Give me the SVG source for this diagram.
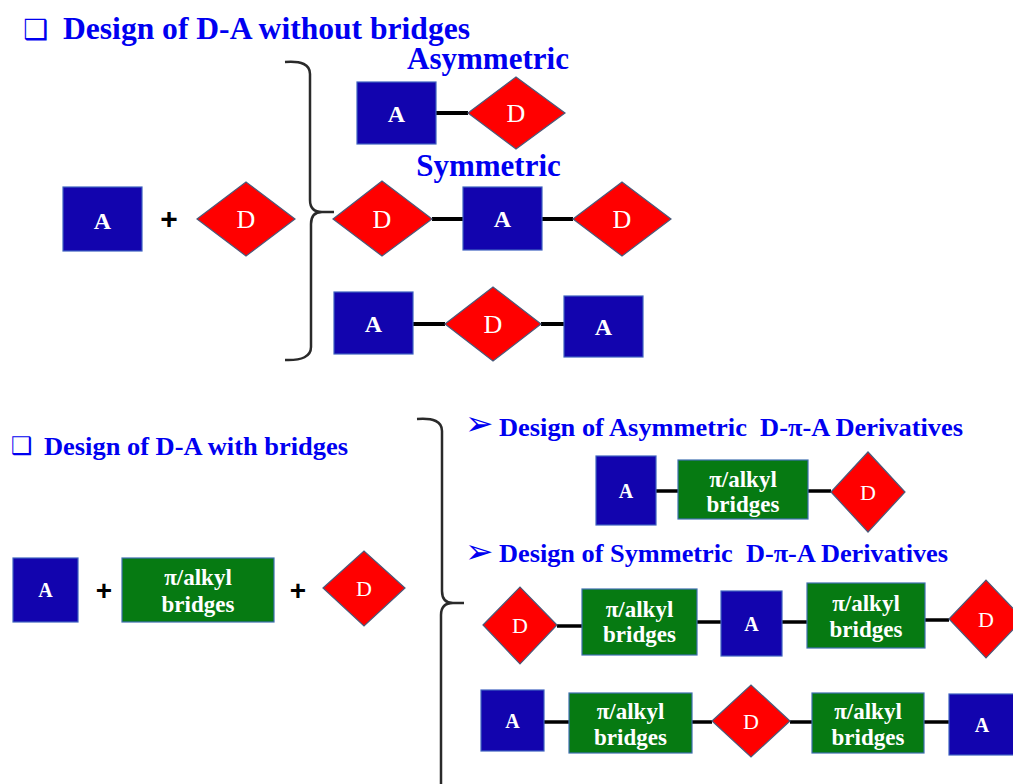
<svg xmlns="http://www.w3.org/2000/svg" width="1013" height="784" viewBox="0 0 1013 784">
<style>
.a{fill:#1204AE;stroke:#3F62C0;stroke-width:1.2}
.d{fill:#FF0000;stroke:#4A5A7A;stroke-width:1.2}
.g{fill:#067A12;stroke:#3F6FB0;stroke-width:1.2}
.ta{font-family:'Liberation Serif',serif;font-weight:bold;fill:#fff;text-anchor:middle}
.td{font-family:'Liberation Serif',serif;fill:#fff;text-anchor:middle}
.tg{font-family:'Liberation Serif',serif;font-weight:bold;fill:#fff;text-anchor:middle;font-size:23px}
.title{font-family:'Liberation Serif',serif;font-weight:bold;fill:#0000F0;white-space:pre}
.bul{font-family:'DejaVu Sans',sans-serif;fill:#0000F0}
.plus{font-family:'Liberation Sans',sans-serif;font-weight:bold;fill:#000;text-anchor:middle}
.brace{fill:none;stroke:#2a2a2a;stroke-width:2.5}
#connectors line{stroke:#000;stroke-width:4}
</style>
<rect width="1013" height="784" fill="#fff"/>

<!-- titles -->
<g id="title1">
<text class="bul" x="23" y="39" font-size="28">❑</text>
<text class="title" x="63" y="39" font-size="31" textLength="407" lengthAdjust="spacingAndGlyphs">Design of D-A without bridges</text>
</g>
<g id="title2">
<text class="bul" x="11" y="454" font-size="24">❑</text>
<text class="title" x="44" y="455" font-size="26" textLength="304" lengthAdjust="spacingAndGlyphs">Design of D-A with bridges</text>
</g>
<text class="title" x="488" y="69" font-size="31" text-anchor="middle">Asymmetric</text>
<text class="title" x="488.5" y="176" font-size="31" text-anchor="middle">Symmetric</text>
<g id="title3">
<text class="bul" x="465" y="435" font-size="34">➢</text>
<text class="title" x="499" y="436" font-size="26" textLength="464" lengthAdjust="spacingAndGlyphs">Design of Asymmetric  D-π-A Derivatives</text>
</g>
<g id="title4">
<text class="bul" x="465" y="563" font-size="34">➢</text>
<text class="title" x="499" y="562" font-size="26" textLength="449" lengthAdjust="spacingAndGlyphs">Design of Symmetric  D-π-A Derivatives</text>
</g>

<!-- braces -->
<path class="brace" d="M285,62 Q310,60 310,74 L310,200 Q310,212 322,212 L334,212 M322,212 Q311,212 311,224 L311,347 Q311,361 285,360"/>
<path class="brace" d="M417,419 Q442,417 442,431 L442,591 Q442,603 453,603 L464,603 M453,603 Q441,603 441,615 L441,790"/>

<!-- plus signs -->
<text class="plus" x="169" y="229" font-size="30">+</text>
<text class="plus" x="104" y="600" font-size="28">+</text>
<text class="plus" x="298" y="600" font-size="28">+</text>

<!-- connectors -->
<g id="connectors">
<line x1="436" y1="113" x2="468" y2="113"/>
<line x1="432" y1="219" x2="463" y2="219"/>
<line x1="542" y1="219" x2="573" y2="219"/>
<line x1="413" y1="324" x2="445" y2="324"/>
<line x1="541" y1="324" x2="564" y2="324"/>
<line x1="656" y1="491" x2="678" y2="491" style="stroke-width:3.5"/>
<line x1="808" y1="491" x2="831" y2="491" style="stroke-width:3.5"/>
<line x1="557" y1="626" x2="582" y2="626" style="stroke-width:3.5"/>
<line x1="697" y1="622" x2="721" y2="622" style="stroke-width:3.5"/>
<line x1="782" y1="622" x2="807" y2="622" style="stroke-width:3.5"/>
<line x1="925" y1="620" x2="949" y2="620" style="stroke-width:3.5"/>
<line x1="544" y1="722" x2="569" y2="722" style="stroke-width:3.5"/>
<line x1="692" y1="722" x2="712" y2="722" style="stroke-width:3.5"/>
<line x1="790" y1="722" x2="812" y2="722" style="stroke-width:3.5"/>
<line x1="924" y1="722" x2="949" y2="722" style="stroke-width:3.5"/>
</g>

<!-- top section nodes -->
<g id="A0"><rect class="a" x="63" y="187" width="79" height="64"/><text class="ta" x="102.5" y="229" font-size="24">A</text></g>
<g id="D0"><polygon class="d" points="197,219 246,182 295,219 246,256"/><text class="td" x="246" y="228" font-size="26">D</text></g>

<g id="A1"><rect class="a" x="357" y="82" width="79" height="62"/><text class="ta" x="396.5" y="122" font-size="24">A</text></g>
<g id="D1"><polygon class="d" points="468,113 516,77 565,113 516,149"/><text class="td" x="516" y="122" font-size="26">D</text></g>

<g id="D2"><polygon class="d" points="333,219 382,181 432,219 382,256"/><text class="td" x="382" y="228" font-size="26">D</text></g>
<g id="A2"><rect class="a" x="463" y="187" width="79" height="63"/><text class="ta" x="502.5" y="227" font-size="24">A</text></g>
<g id="D3"><polygon class="d" points="573,219 622,182 671,219 622,256"/><text class="td" x="622" y="228" font-size="26">D</text></g>

<g id="A3"><rect class="a" x="334" y="292" width="79" height="62"/><text class="ta" x="373.5" y="332" font-size="24">A</text></g>
<g id="D4"><polygon class="d" points="445,324 493,287 541,324 493,361"/><text class="td" x="493" y="333" font-size="26">D</text></g>
<g id="A4"><rect class="a" x="564" y="296" width="79" height="61"/><text class="ta" x="603.5" y="335" font-size="24">A</text></g>

<!-- bottom left -->
<g id="A5"><rect class="a" x="13" y="558" width="65" height="64"/><text class="ta" x="45.5" y="597" font-size="20">A</text></g>
<g id="G0"><rect class="g" x="122" y="558" width="152" height="64"/><text class="tg" x="198" y="585">π/alkyl</text><text class="tg" x="198" y="612">bridges</text></g>
<g id="D5"><polygon class="d" points="323,588 364,551 405,588 364,626"/><text class="td" x="364" y="596" font-size="22">D</text></g>

<!-- bottom asym -->
<g id="A6"><rect class="a" x="596" y="456" width="60" height="69"/><text class="ta" x="626" y="498" font-size="20">A</text></g>
<g id="G1"><rect class="g" x="678" y="460" width="130" height="59"/><text class="tg" x="743" y="487">π/alkyl</text><text class="tg" x="743" y="512">bridges</text></g>
<g id="D6"><polygon class="d" points="831,492 868,452 905,492 868,532"/><text class="td" x="868" y="500" font-size="22">D</text></g>

<!-- bottom sym row 1 -->
<g id="D7"><polygon class="d" points="483,625 520,587 557,625 520,664"/><text class="td" x="520" y="633" font-size="22">D</text></g>
<g id="G2"><rect class="g" x="582" y="589" width="115" height="66"/><text class="tg" x="639.5" y="617">π/alkyl</text><text class="tg" x="639.5" y="642">bridges</text></g>
<g id="A7"><rect class="a" x="721" y="591" width="61" height="65"/><text class="ta" x="751.5" y="631" font-size="20">A</text></g>
<g id="G3"><rect class="g" x="807" y="583" width="118" height="65"/><text class="tg" x="866" y="611">π/alkyl</text><text class="tg" x="866" y="637">bridges</text></g>
<g id="D8"><polygon class="d" points="949,619 986,580 1023,619 986,658"/><text class="td" x="986" y="627" font-size="22">D</text></g>

<!-- bottom sym row 2 -->
<g id="A8"><rect class="a" x="481" y="690" width="63" height="61"/><text class="ta" x="512.5" y="728" font-size="20">A</text></g>
<g id="G4"><rect class="g" x="569" y="693" width="123" height="60"/><text class="tg" x="630.5" y="719">π/alkyl</text><text class="tg" x="630.5" y="745">bridges</text></g>
<g id="D9"><polygon class="d" points="712,721 751,685 790,721 751,757"/><text class="td" x="751" y="729" font-size="22">D</text></g>
<g id="G5"><rect class="g" x="812" y="693" width="112" height="60"/><text class="tg" x="868" y="719">π/alkyl</text><text class="tg" x="868" y="745">bridges</text></g>
<g id="A9"><rect class="a" x="949" y="694" width="66" height="61"/><text class="ta" x="982" y="732" font-size="20">A</text></g>
</svg>
